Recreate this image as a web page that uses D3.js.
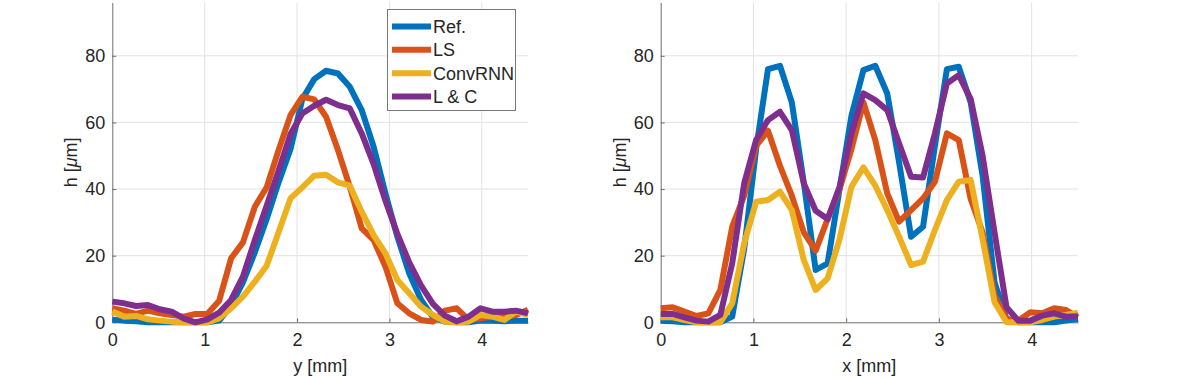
<!DOCTYPE html>
<html>
<head>
<meta charset="utf-8">
<script src="https://cdn.jsdelivr.net/npm/d3@7"></script>
<style>
  body { margin: 0; background: #fff; }
  svg { display: block; }
  .tick text { font-family: "Liberation Sans", Arial, sans-serif; font-size: 18px; fill: #262626; }
  .axisText { font-family: "Liberation Sans", Arial, sans-serif; font-size: 18px; fill: #262626; }
</style>
</head>
<body>
<script>
// sample positions (mm), shared by both profiles
var xs = [0, 0.129, 0.257, 0.386, 0.514, 0.643, 0.771, 0.9, 1.029, 1.157, 1.286, 1.414,
  1.543, 1.671, 1.8, 1.929, 2.057, 2.186, 2.314, 2.443, 2.571, 2.7, 2.829, 2.957,
  3.086, 3.214, 3.343, 3.471, 3.6, 3.729, 3.857, 3.986, 4.114, 4.243, 4.371, 4.5];

var seriesNames = ["Ref.", "LS", "ConvRNN", "L & C"];

// left profile, h vs y
var leftRef = [0.8,0.5,0.3,0,0,0,0,0,0,0.5,5,12,21,31,42,52,67,73,75.5,74.7,70.7,63.7,52.7,38.7,25.7,14.7,6.7,1.5,0.2,0,0,0.5,0.5,0.3,0.5,0.5];
var leftLS = [4.2,3.5,2.5,3.5,2.7,2.2,1.7,2.5,2.5,6.5,19.2,24,34.7,40.5,51.7,62.2,67.7,66.9,61.7,51.7,40.7,28.2,24.7,16.7,5.7,2.7,0.7,0.2,3.5,4.2,0.7,1.2,1.7,1.7,2.2,3.8];
var leftConv = [3.2,1.7,1.9,0.9,0.5,0.2,0,0,0,1.2,4.2,7.7,12.2,17,27,37.2,40.5,44,44.3,42,41,33.2,26.2,20.7,12.7,8.7,4.7,2.2,0.2,0,0.2,2.2,1.7,0.7,3.2,2.2];
var leftLC = [6.2,5.7,4.9,5.2,3.9,3.2,1.2,0,0.9,2.9,6.7,13.7,24.7,35,45.5,56.5,62.7,65,66.8,65.2,64.2,56.7,47.5,36.5,26.5,18,11,5.5,2,0.3,1.7,4.2,3.2,3.2,3.5,2.7];

// right profile, h vs x
var rightRef = [0.5,0.3,0,0,0,0,1.7,22,52,76,77,66,42,15.7,17.7,40,62,75.7,77,68.7,48,25.7,28.7,53,76,76.7,66,44,12,1,0,0,0,0,0.5,1];
var rightLS = [4.2,4.5,3.2,1.9,2.7,9.7,28.7,38,53,57.5,47,38,27,21.5,31,40,52,66,54.7,38.7,30.2,33.7,37.2,42.2,56.7,54.7,37,27,8,1,0.5,3,2.7,4.2,3.7,1.5];
var rightConv = [1.5,1.5,0.7,0,0,0,5.7,23.7,36.2,36.7,39.2,33.7,18.7,9.7,13.2,25,40.7,46.5,41,33.7,25.7,17.2,18.2,27.7,36.7,42.2,42.7,25,6,0,0,0,0.7,1.7,2.2,2.9];
var rightLC = [2.5,2.5,1.5,0.5,0.2,2.2,17.7,41.7,54.7,60.7,63.2,57.7,41.7,33.5,31,40.7,56.7,68.7,66.7,63.7,53.7,43.7,43.5,56.7,71.7,74.2,67,50,27,4.5,0.5,0.5,2,2.7,1.7,1.8];

var xTicks = [0, 1, 2, 3, 4];
var yTicks = [0, 20, 40, 60, 80];

var colors = ["#0072BD", "#D95319", "#EDB120", "#7E2F8E"];

var svgWidth = 1196;
var svgHeight = 378;

var svg = d3.select("body")
  .append("svg")
  .attr("width", svgWidth)
  .attr("height", svgHeight);

function drawPanel(left, right, xLabel, yLabelX, data) {
  var top = 2.5, bottom = 322.3;

  var xScale = d3.scaleLinear().domain([0, 4.5]).range([left, right]);
  var yScale = d3.scaleLinear().domain([0, 96]).range([bottom, top]);

  var g = svg.append("g");

  // grid
  g.selectAll(".vgrid")
    .data(xTicks.slice(1))
    .enter()
    .append("line")
    .attr("x1", function(d) { return xScale(d); })
    .attr("x2", function(d) { return xScale(d); })
    .attr("y1", top)
    .attr("y2", bottom)
    .attr("stroke", "#e3e3e3")
    .attr("stroke-width", 1);

  g.selectAll(".hgrid")
    .data(yTicks.slice(1))
    .enter()
    .append("line")
    .attr("x1", left)
    .attr("x2", right)
    .attr("y1", function(d) { return yScale(d); })
    .attr("y2", function(d) { return yScale(d); })
    .attr("stroke", "#e3e3e3")
    .attr("stroke-width", 1);

  // axes
  var bottomAxis = d3.axisBottom(xScale).tickValues(xTicks).tickFormat(d3.format("d"))
    .tickSizeInner(-4).tickSizeOuter(0).tickPadding(11);
  var leftAxis = d3.axisLeft(yScale).tickValues(yTicks).tickFormat(d3.format("d"))
    .tickSizeInner(-4).tickSizeOuter(0).tickPadding(7);

  var gx = g.append("g")
    .attr("transform", "translate(0," + bottom + ")")
    .call(bottomAxis);
  var gy = g.append("g")
    .attr("transform", "translate(" + left + ",0)")
    .call(leftAxis);

  [gx, gy].forEach(function(a) {
    a.select(".domain").attr("stroke", "#6e6e6e");
    a.selectAll(".tick line").attr("stroke", "#6e6e6e");
    a.selectAll(".tick text").attr("fill", "#262626");
  });

  // lines
  var line = d3.line()
    .x(function(d, i) { return xScale(xs[i]); })
    .y(function(d) { return yScale(d); });

  data.forEach(function(vals, k) {
    g.append("path")
      .datum(vals)
      .attr("d", line)
      .attr("fill", "none")
      .attr("stroke", colors[k])
      .attr("stroke-width", 6)
      .attr("stroke-linejoin", "round");
  });

  // axis labels
  g.append("text")
    .attr("class", "axisText")
    .attr("x", (left + right) / 2)
    .attr("y", 372)
    .attr("text-anchor", "middle")
    .text(xLabel);

  var yl = g.append("text")
    .attr("class", "axisText")
    .attr("transform", "translate(" + yLabelX + "," + ((top + bottom) / 2) + ") rotate(-90)")
    .attr("dy", "0.35em")
    .attr("text-anchor", "middle");
  yl.append("tspan").text("h [");
  yl.append("tspan").attr("font-style", "italic").text("\u03bc");
  yl.append("tspan").text("m]");

  return g;
}

var leftPanel = drawPanel(112.3, 528, "y [mm]", 71, [leftRef, leftLS, leftConv, leftLC]);
drawPanel(660.7, 1078, "x [mm]", 620, [rightRef, rightLS, rightConv, rightLC]);

// legend
var legend = leftPanel.append("g");
legend.append("rect")
  .attr("x", 387.5)
  .attr("y", 9.5)
  .attr("width", 128)
  .attr("height", 101)
  .attr("fill", "#fff")
  .attr("stroke", "#777")
  .attr("stroke-width", 1);

var rowY = [26.5, 49.8, 73.2, 96.6];
seriesNames.forEach(function(name, k) {
  legend.append("line")
    .attr("x1", 392)
    .attr("x2", 431)
    .attr("y1", rowY[k])
    .attr("y2", rowY[k])
    .attr("stroke", colors[k])
    .attr("stroke-width", 6);
  legend.append("text")
    .attr("class", "axisText")
    .attr("x", 433)
    .attr("y", rowY[k])
    .attr("dy", "0.36em")
    .text(name);
});
</script>
</body>
</html>
